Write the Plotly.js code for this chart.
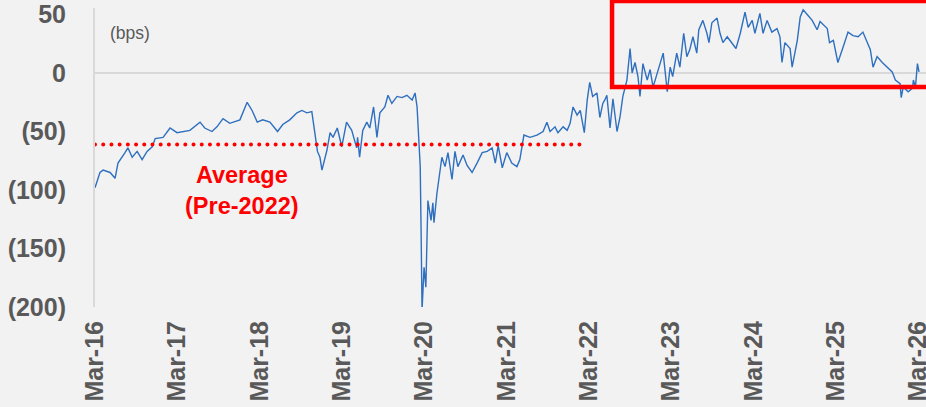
<!DOCTYPE html>
<html>
<head>
<meta charset="utf-8">
<script src="https://cdn.plot.ly/plotly-3.0.1.min.js"></script>
<style>
html,body{margin:0;padding:0;background:#f2f2f2;}
#chart{width:926px;height:407px;}
</style>
</head>
<body>
<div id="chart"></div>
<script>
// ---- data ----
const dates = [
"2016-03-01","2016-03-23","2016-04-06","2016-05-07","2016-05-29","2016-06-11","2016-07-12","2016-07-25","2016-08-13","2016-09-04",
"2016-09-26","2016-10-18","2016-11-10","2016-11-23","2016-12-28","2017-01-28","2017-02-28","2017-04-04","2017-04-26","2017-06-10",
"2017-07-01","2017-08-02","2017-08-24","2017-09-20","2017-10-20","2017-12-04","2018-01-05","2018-01-27","2018-02-19","2018-03-15",
"2018-04-16","2018-05-20","2018-06-12","2018-07-13","2018-08-14","2018-09-05","2018-09-27","2018-10-19","2018-10-28","2018-11-13",
"2018-11-24","2018-12-03","2018-12-25","2019-01-08","2019-01-21","2019-02-09","2019-03-01","2019-03-22","2019-04-14","2019-05-06",
"2019-05-10","2019-05-19","2019-06-02","2019-06-20","2019-07-03","2019-07-20","2019-08-04","2019-08-17","2019-09-08","2019-09-22",
"2019-10-09","2019-11-01","2019-11-23","2019-12-15","2020-01-07","2020-01-20","2020-01-29","2020-02-03","2020-02-12","2020-02-16",
"2020-02-20","2020-02-29","2020-03-08","2020-03-17","2020-03-31","2020-04-08","2020-04-13","2020-04-26","2020-05-05","2020-05-18",
"2020-06-01","2020-06-14","2020-07-02","2020-07-15","2020-07-28","2020-08-20","2020-09-07","2020-09-29","2020-10-21","2020-11-13",
"2020-12-05","2020-12-27","2021-01-10","2021-01-23","2021-02-10","2021-03-02","2021-03-24","2021-04-16","2021-04-29","2021-05-17",
"2021-06-13","2021-07-14","2021-08-10","2021-08-27","2021-09-10","2021-10-02","2021-10-15","2021-11-07","2021-11-25","2021-12-08",
"2021-12-21","2022-01-08","2022-01-22","2022-02-09","2022-02-22","2022-03-05","2022-03-18","2022-04-06","2022-04-19","2022-05-02",
"2022-05-11","2022-05-20","2022-06-03","2022-06-16","2022-07-04","2022-07-17","2022-07-30","2022-08-17","2022-08-31","2022-09-09",
"2022-09-22","2022-10-05","2022-10-14","2022-10-27","2022-11-15","2022-11-28","2022-12-11","2022-12-29","2023-01-11","2023-01-25",
"2023-02-12","2023-02-25","2023-03-08","2023-03-26","2023-04-09","2023-04-26","2023-05-10","2023-05-23","2023-06-06","2023-06-23",
"2023-07-02","2023-07-20","2023-08-07","2023-08-16","2023-08-29","2023-09-21","2023-10-04","2023-10-17","2023-11-05","2023-11-26",
"2023-12-14","2024-01-02","2024-01-23","2024-02-06","2024-02-24","2024-03-07","2024-03-29","2024-04-12","2024-04-30","2024-05-21",
"2024-06-13","2024-06-26","2024-07-05","2024-07-18","2024-08-10","2024-08-19","2024-09-11","2024-09-24","2024-10-07","2024-10-25",
"2024-11-16","2024-12-08","2024-12-21","2025-01-22","2025-02-01","2025-02-18","2025-03-10","2025-04-02","2025-04-24","2025-05-16",
"2025-06-08","2025-06-29","2025-07-17","2025-08-01","2025-08-13","2025-08-31","2025-09-23","2025-10-15","2025-11-06","2025-11-20",
"2025-12-11","2025-12-16","2025-12-25","2026-01-16","2026-02-04","2026-02-08","2026-02-17","2026-02-26","2026-03-05"
];
const spreadBps = [
-98,-85,-83,-85,-90,-77,-68,-64,-72,-67,
-74,-67,-63,-56,-55,-47,-51,-50,-49,-42,
-47,-50,-46,-39,-43,-40,-25,-32,-42,-40,
-42,-50,-44,-40,-34,-32,-34,-33,-46,-67,
-72,-83,-66,-51,-55,-47,-63,-42,-49,-64,
-55,-72,-49,-42,-47,-29,-55,-34,-29,-19,
-26,-20,-21,-19,-23,-17,-29,-51,-80,-137,
-203,-166,-183,-109,-126,-111,-128,-103,-89,-72,
-80,-68,-91,-67,-80,-70,-79,-85,-77,-68,
-67,-64,-77,-62,-81,-68,-77,-80,-74,-53,
-55,-53,-50,-42,-50,-46,-51,-46,-49,-43,
-29,-36,-32,-51,-23,-8,-20,-17,-38,-26,
-23,-19,-47,-22,-50,-38,-20,-6,21,0,
9,-3,-20,8,-6,3,-12,0,8,17,
-16,5,-3,17,5,34,14,20,31,17,
37,45,34,26,43,47,34,26,31,26,
21,34,52,39,45,34,51,34,45,35,
38,31,9,26,21,5,28,48,54,50,
45,37,44,38,26,28,9,22,35,32,
31,35,26,20,5,14,9,5,1,-6,
-9,-21,-12,-16,-13,-6,-12,8,1
];
const avgDates = ["2016-03-01","2022-02-05"];
const avgValue = [-61,-61];
const avgLabel = "Average<br>(Pre-2022)";
const avgLabelPos = {x:"2017-12-13", y:-100};
const tickDates = ["2016-03-01","2017-03-01","2018-03-01","2019-03-01","2020-03-01","2021-03-01","2022-03-01","2023-03-01","2024-03-01","2025-03-01","2026-03-01"];
const tickLabels = ["Mar-16","Mar-17","Mar-18","Mar-19","Mar-20","Mar-21","Mar-22","Mar-23","Mar-24","Mar-25","Mar-26"];
const yTickVals = [-200,-150,-100,-50,0,50];
const yTickLabels = ["(200)","(150)","(100)","(50)","0","50"];
const unitLabel = "(bps)";
const xRange = ["2016-03-01","2026-04-05"];
const yRange = [-200,55.6];
// highlighted region (data coordinates)
const hlStart = "2022-06-12";
const hlLow = -12, hlHigh = 61.5;

// ---- helpers for paper coords ----
function tx(d){return new Date(d).getTime();}
function xPaper(d){return (tx(d)-tx(xRange[0]))/(tx(xRange[1])-tx(xRange[0]));}
function yPaper(v){return (v-yRange[0])/(yRange[1]-yRange[0]);}

const traces = [
  {x:dates, y:spreadBps, type:"scatter", mode:"lines",
   line:{color:"#2f6fbf", width:1.4}, hoverinfo:"skip"},
  {x:avgDates, y:avgValue, type:"scatter", mode:"lines",
   line:{color:"#ff0000", width:4, dash:"4px,4.2px"}, hoverinfo:"skip"}
];

const layout = {
  width:926, height:407,
  margin:{l:95, r:0, t:8, b:100, pad:0},
  paper_bgcolor:"#f2f2f2", plot_bgcolor:"#f2f2f2",
  showlegend:false,
  font:{family:"Liberation Sans, Arial, sans-serif", color:"#595959"},
  xaxis:{type:"date", range:xRange, tickvals:tickDates, ticktext:tickLabels,
    tickangle:-90, showgrid:false, zeroline:false, showline:false, ticks:"",
    ticklabelstandoff:8, ticklabeloverflow:"allow",
    tickfont:{family:"Liberation Sans, Arial, sans-serif", size:25, color:"#595959", weight:"bold"}},
  yaxis:{range:yRange, tickvals:yTickVals, ticktext:yTickLabels, showgrid:false,
    zeroline:true, zerolinecolor:"#d9d9d9", zerolinewidth:2,
    showline:true, linecolor:"#d9d9d9", linewidth:2, ticks:"",
    ticklabelstandoff:22,
    tickfont:{family:"Liberation Sans, Arial, sans-serif", size:25, color:"#595959", weight:"bold"}},
  annotations:[
    {x:avgLabelPos.x, y:avgLabelPos.y, xref:"x", yref:"y", text:avgLabel, showarrow:false,
     font:{family:"Liberation Sans, Arial, sans-serif", size:23.5, color:"#ff0000", weight:"bold"}},
    {x:0.0156, y:0.916, xref:"paper", yref:"paper", xanchor:"left", yanchor:"middle",
     text:unitLabel, showarrow:false,
     font:{family:"Liberation Sans, Arial, sans-serif", size:17.5, color:"#595959"}}
  ],
  shapes:[
    {type:"rect", xref:"paper", yref:"paper",
     x0:xPaper(hlStart), x1:1.02, y0:yPaper(hlLow), y1:yPaper(hlHigh),
     line:{color:"#ff0000", width:4.5}, fillcolor:"rgba(0,0,0,0)", layer:"above"}
  ]
};

Plotly.newPlot("chart", traces, layout, {displayModeBar:false, staticPlot:true}).then(function(){
  const tr = document.querySelectorAll(".scatterlayer .trace");
  if (tr.length > 1) {
    const p = tr[1].querySelector("path.js-line");
    if (p) { p.style.strokeDasharray = "0.01px,8.2px"; p.style.strokeLinecap = "round"; }
  }
});
</script>
</body>
</html>
